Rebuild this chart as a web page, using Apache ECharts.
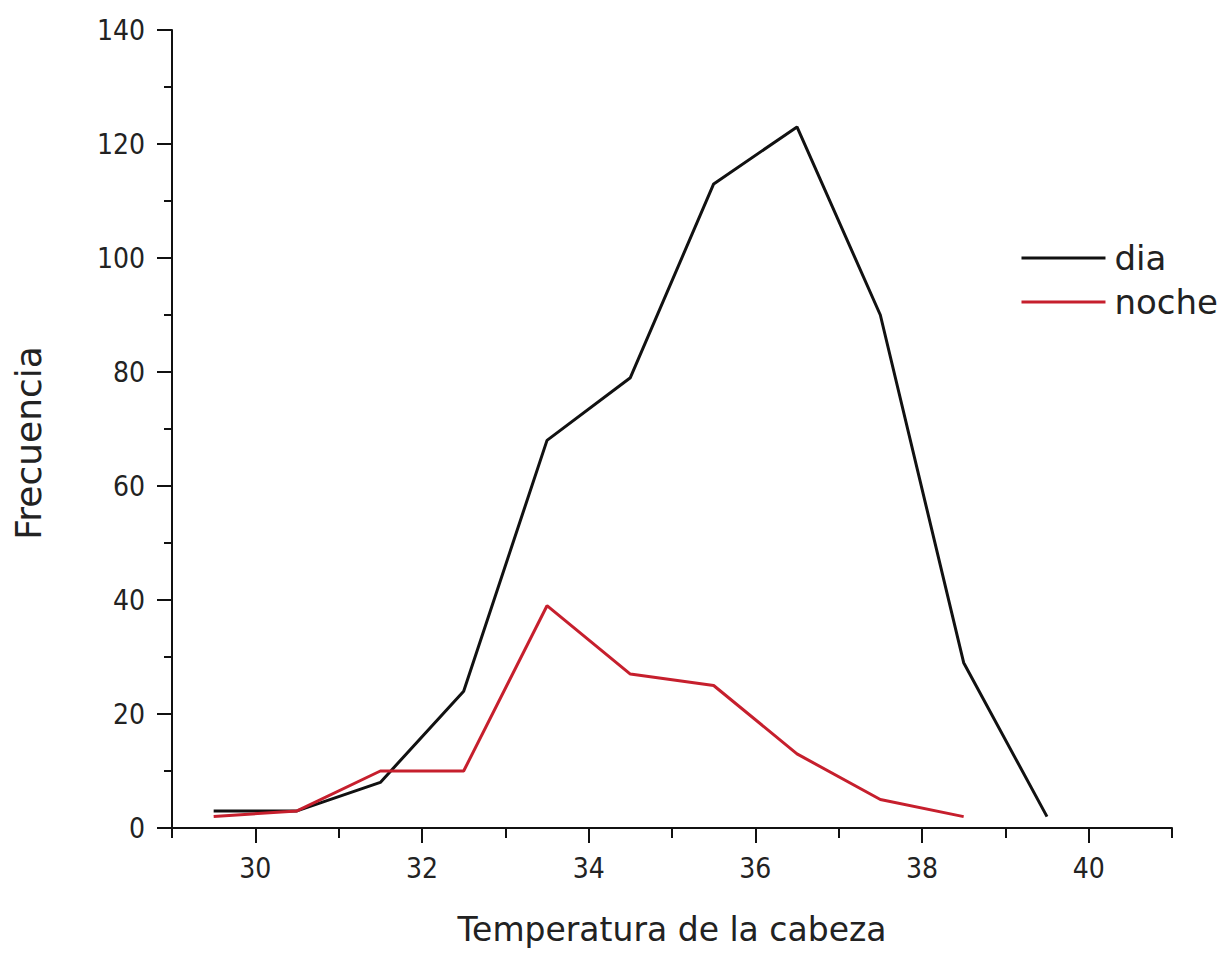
<!DOCTYPE html>
<html>
  <head>
    <meta charset="utf-8">
    <script src="https://cdn.jsdelivr.net/npm/echarts@6/dist/echarts.min.js"></script>
    <style>
      body { margin: 0; background: #fff; }
      #chart { width: 1229px; height: 953px; }
    </style>
  </head>
  <body>
    <div id="chart"></div>
    <script>
      // temperaturas (centro de cada clase)
      const temps = [29.5, 30.5, 31.5, 32.5, 33.5, 34.5, 35.5, 36.5, 37.5, 38.5, 39.5];
      const dia = [3, 3, 8, 24, 68, 79, 113, 123, 90, 29, 2];
      const noche = [2, 3, 10, 10, 39, 27, 25, 13, 5, 2];
      // marcas del eje x: mayores (con etiqueta) y menores
      const xMajor = [30, 32, 34, 36, 38, 40];
      const xMinor = [29, 31, 33, 35, 37, 39, 41];

      const pairs = (ys) => ys.map((v, i) => [temps[i], v]);
      const txt = '#222';
      const red = '#c61f2d';
      const font = 'DejaVu Sans';
      const tickFont = '"DejaVu Sans Condensed", "DejaVu Sans", sans-serif';

      const chart = echarts.init(document.getElementById('chart'), null, { renderer: 'svg' });
      chart.setOption({
        animation: false,
        textStyle: { fontFamily: font },
        grid: { left: 172, right: 57, top: 30, bottom: 125 },
        legend: {
          right: 6, top: 236, orient: 'vertical',
          itemWidth: 84, itemHeight: 3, itemGap: 10,
          icon: 'rect',
          textStyle: { fontSize: 34, lineHeight: 34, color: txt, fontFamily: font, padding: [0, 0, 0, 4] },
          data: ['dia', 'noche']
        },
        xAxis: [{
          type: 'value', min: 29, max: 41,
          name: 'Temperatura de la cabeza', nameLocation: 'middle', nameGap: 85,
          nameTextStyle: { fontSize: 33, color: txt, fontFamily: font },
          axisLine: { lineStyle: { color: '#111', width: 2 } },
          axisTick: { inside: false, length: 15, customValues: xMajor, lineStyle: { color: '#111', width: 2 } },
          axisLabel: { fontSize: 28, color: txt, margin: 26, fontFamily: tickFont, customValues: xMajor },
          splitLine: { show: false }
        }, {
          type: 'value', min: 29, max: 41, position: 'bottom',
          axisLine: { show: false },
          axisTick: { show: true, inside: false, length: 10, customValues: xMinor, lineStyle: { color: '#111', width: 2 } },
          axisLabel: { show: false },
          splitLine: { show: false }
        }],
        yAxis: {
          type: 'value', min: 0, max: 140, interval: 20,
          name: 'Frecuencia', nameLocation: 'middle', nameGap: 126, nameRotate: 90,
          nameTextStyle: { fontSize: 36, color: txt, fontFamily: font, padding: [0, 28, 0, 0] },
          axisLine: { show: true, lineStyle: { color: '#111', width: 2 } },
          axisTick: { show: true, inside: false, length: 15, lineStyle: { color: '#111', width: 2 } },
          minorTick: { show: true, splitNumber: 2, length: 8, lineStyle: { color: '#111', width: 2 } },
          axisLabel: { fontSize: 28, color: txt, margin: 27, fontFamily: tickFont },
          splitLine: { show: false }
        },
        series: [
          {
            name: 'dia', type: 'line', data: pairs(dia), showSymbol: false,
            itemStyle: { color: '#111' },
            lineStyle: { color: '#111', width: 3 }
          },
          {
            name: 'noche', type: 'line', data: pairs(noche), showSymbol: false,
            itemStyle: { color: red },
            lineStyle: { color: red, width: 3 }
          }
        ]
      });
    </script>
  </body>
</html>
